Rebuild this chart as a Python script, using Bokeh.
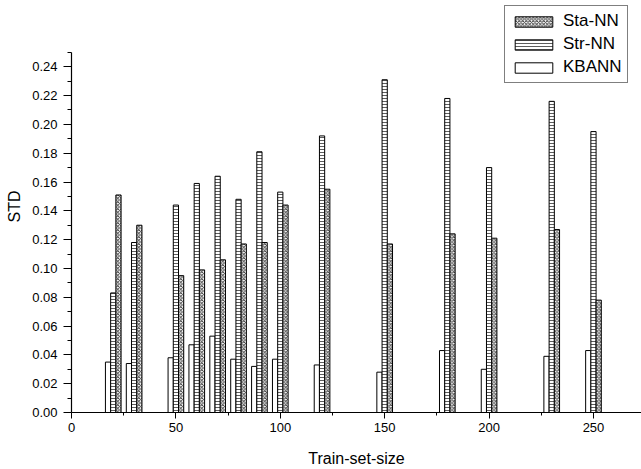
from bokeh.plotting import figure
from bokeh.models import (ColumnDataSource, FixedTicker, PrintfTickFormatter,
                          Legend, LegendItem, Range1d)
from bokeh.transform import dodge
from bokeh.embed import file_html
from bokeh.resources import INLINE

sizes = [20, 30, 50, 60, 70, 80, 90, 100, 120, 150, 180, 200, 230, 250]
kbann = [0.035, 0.034, 0.038, 0.047, 0.053, 0.037, 0.032, 0.037, 0.033, 0.028, 0.043, 0.030, 0.039, 0.043]
str_nn = [0.083, 0.118, 0.144, 0.159, 0.164, 0.148, 0.181, 0.153, 0.192, 0.231, 0.218, 0.170, 0.216, 0.195]
sta_nn = [0.151, 0.130, 0.095, 0.099, 0.106, 0.117, 0.118, 0.144, 0.155, 0.117, 0.124, 0.121, 0.127, 0.078]

x_ticks = [0, 50, 100, 150, 200, 250]
x_minor = [25, 75, 125, 175, 225]
y_ticks = [0.00, 0.02, 0.04, 0.06, 0.08, 0.10, 0.12, 0.14, 0.16, 0.18, 0.20, 0.22, 0.24]
y_minor = [0.01, 0.03, 0.05, 0.07, 0.09, 0.11, 0.13, 0.15, 0.17, 0.19, 0.21, 0.23, 0.25]

bar_w = 2.5
FONT = "Liberation Sans"

src = ColumnDataSource(dict(x=sizes, kbann=kbann, str_nn=str_nn, sta_nn=sta_nn))

p = figure(width=641, height=469, output_backend="svg", toolbar_location=None,
           x_range=Range1d(0, 273), y_range=Range1d(0, 0.286),
           min_border_left=71, min_border_right=0, min_border_top=0, min_border_bottom=56)
p.outline_line_color = None
p.xgrid.visible = False
p.ygrid.visible = False

r_kb = p.vbar(x=dodge('x', -bar_w, range=p.x_range), top='kbann', width=bar_w, source=src,
              fill_color="white", line_color="black", line_width=1)
r_str = p.vbar(x='x', top='str_nn', width=bar_w, source=src,
               fill_color="white", line_color="black", line_width=1,
               hatch_pattern="horizontal_line", hatch_scale=3, hatch_weight=0.8, hatch_color="#333333")
r_sta = p.vbar(x=dodge('x', bar_w, range=p.x_range), top='sta_nn', width=bar_w, source=src,
               fill_color="white", line_color="black", line_width=1,
               hatch_pattern="diagonal_cross", hatch_scale=3.5, hatch_weight=0.9, hatch_color="#333333")

legend = Legend(items=[LegendItem(label="Sta-NN", renderers=[r_sta]),
                       LegendItem(label="Str-NN", renderers=[r_str]),
                       LegendItem(label="KBANN", renderers=[r_kb])],
                location=(433, 329), orientation="vertical",
                glyph_width=47, glyph_height=13, label_height=13, label_width=40,
                spacing=3, padding=5, margin=0, label_standoff=6,
                label_text_font=FONT, label_text_font_size="17px", label_text_color="black",
                border_line_color="black", border_line_width=1,
                background_fill_color="white", background_fill_alpha=1.0)
p.add_layout(legend, "center")

xa = p.xaxis[0]
xa.ticker = FixedTicker(ticks=x_ticks, minor_ticks=x_minor)
xa.axis_label = "Train-set-size"
xa.major_tick_out = 6
xa.major_tick_in = 0
xa.minor_tick_out = 3
xa.minor_tick_in = 0
xa.major_label_standoff = 4
xa.axis_label_standoff = 15

ya = p.yaxis[0]
ya.ticker = FixedTicker(ticks=y_ticks, minor_ticks=y_minor)
ya.formatter = PrintfTickFormatter(format="%.2f")
ya.bounds = (0, 0.25)
ya.axis_label = "STD"
ya.major_tick_out = 8
ya.major_tick_in = 0
ya.minor_tick_out = 4
ya.minor_tick_in = 0
ya.major_label_standoff = 6
ya.axis_label_standoff = 6

for ax in (xa, ya):
    ax.axis_line_color = "black"
    ax.axis_line_width = 1.2
    ax.major_tick_line_color = "black"
    ax.minor_tick_line_color = "black"
    ax.major_label_text_font = FONT
    ax.major_label_text_font_size = "13px"
    ax.major_label_text_color = "black"
    ax.axis_label_text_font = FONT
    ax.axis_label_text_font_size = "16px"
    ax.axis_label_text_font_style = "normal"
    ax.axis_label_text_color = "black"

open("out.html", "w").write(file_html(p, INLINE))
